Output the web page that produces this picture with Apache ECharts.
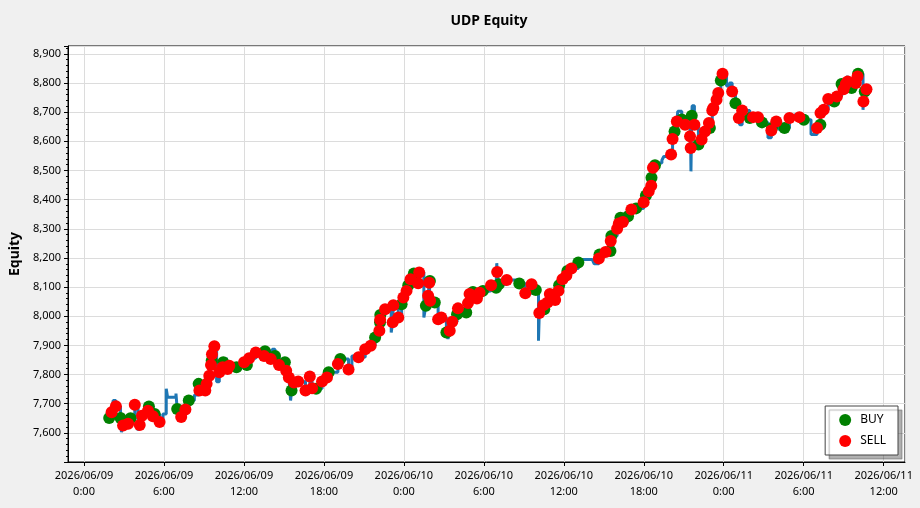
<!DOCTYPE html>
<html>
<head>
<meta charset="utf-8">
<script src="https://cdn.jsdelivr.net/npm/echarts@6/dist/echarts.min.js"></script>
<style>
html,body{margin:0;padding:0;background:#f0f0f0;}
#chart{width:920px;height:508px;}
</style>
</head>
<body>
<div id="chart"></div>
<script>
// Hours after 2026/06/09 0:00, equity value, and kind (B = BUY, S = SELL, L = equity line only)
const hours = [
1.89,2.07,2.19,2.39,2.74,2.81,2.93,3.31,3.49,3.81,4.05,4.18,4.35,4.80,4.87,5.17,5.30,5.67,5.92,6.17,
6.27,6.90,6.99,7.29,7.61,7.86,8.28,8.60,8.66,9.10,9.20,9.40,9.53,9.58,9.60,9.78,9.95,10.15,10.40,10.45,
10.67,10.77,10.90,11.44,12.01,12.22,12.39,12.89,13.51,13.58,14.01,14.13,14.33,14.63,15.07,15.17,15.37,15.50,15.57,15.75,
16.07,16.62,16.94,17.11,17.41,17.86,18.23,18.36,19.05,19.23,19.85,20.10,20.60,21.10,21.51,21.84,22.16,22.21,22.22,22.23,
22.59,23.05,23.16,23.21,23.58,23.83,23.96,24.20,24.33,24.50,24.75,25.07,25.15,25.50,25.65,25.82,25.90,25.95,25.97,26.32,
26.57,26.81,27.19,27.31,27.44,27.63,27.99,28.06,28.68,28.81,28.93,29.18,29.48,29.68,29.93,30.54,30.92,30.97,31.00,31.12,
31.72,32.66,33.11,33.58,33.90,34.10,34.16,34.46,34.53,34.78,34.95,35.35,35.60,35.65,35.90,36.19,36.27,36.57,37.09,37.40,
38.13,38.28,38.63,38.68,39.13,39.50,39.52,39.57,40.00,40.13,40.25,40.43,40.82,41.07,41.42,41.99,42.16,42.37,42.56,42.58,
42.69,42.84,42.99,43.36,43.50,43.73,43.96,44.05,44.16,44.31,44.48,44.55,44.85,45.10,45.47,45.52,45.54,45.60,45.63,45.80,
46.10,46.34,46.59,46.89,46.96,47.14,47.22,47.46,47.59,47.78,47.91,48.21,48.43,48.63,48.88,49.13,49.20,49.38,49.95,50.20,
50.57,50.87,51.32,51.57,51.62,51.94,52.16,52.56,52.93,53.28,53.68,54.01,54.55,55.00,55.25,55.26,55.50,55.84,56.29,56.49,
56.84,56.99,57.16,57.29,57.30,57.59,57.91,58.04,58.08,58.45,58.48,58.58,58.71
];
const equity = [
7651,7671,7711,7691,7651,7602,7625,7631,7650,7696,7608,7627,7659,7676,7690,7657,7665,7637,7665,7751,
7722,7735,7682,7654,7680,7711,7730,7768,7745,7745,7768,7796,7833,7847,7870,7897,7775,7808,7825,7842,
7858,7819,7830,7825,7842,7833,7856,7876,7864,7880,7853,7887,7864,7833,7842,7813,7790,7711,7745,7773,
7776,7745,7793,7753,7751,7776,7790,7808,7836,7853,7817,7864,7859,7887,7899,7927,7950,7979,7988,8004,
8024,7944,7979,8038,7996,8041,8064,8087,8106,8127,8147,8113,8150,7996,8036,8070,8115,8121,8053,8047,
7990,7996,7944,7922,7950,7981,8007,8027,8013,8045,8076,8083,8061,8081,8087,8106,8098,8182,8152,8110,
8124,8112,8079,8110,8090,7916,8011,8038,8024,8047,8076,8056,8087,8106,8127,8140,8155,8164,8184,8195,
8195,8180,8198,8212,8220,8224,8258,8275,8300,8318,8338,8323,8343,8366,8370,8391,8414,8429,8448,8475,
8509,8518,8526,8535,8548,8545,8560,8555,8608,8634,8668,8703,8675,8657,8617,8577,8497,8688,8722,8657,
8589,8606,8634,8663,8646,8706,8714,8743,8766,8809,8832,8790,8800,8771,8731,8680,8657,8706,8680,8683,
8683,8665,8612,8637,8646,8668,8640,8646,8680,8690,8683,8674,8623,8646,8657,8697,8708,8745,8737,8754,
8797,8779,8797,8825,8805,8783,8800,8822,8832,8708,8737,8771,8779
];
const kinds = [
'B','S','L','S','B','L','S','S','B','S','L','S','S','S','B','S','B','S','L','L',
'L','L','B','S','S','B','L','B','S','S','S','S','S','B','S','S','L','S','S','B',
'L','S','S','B','S','B','S','S','S','B','S','L','B','S','B','S','S','L','B','S',
'S','S','S','S','B','S','S','B','S','B','S','L','S','S','S','B','S','B','S','B',
'S','L','S','S','S','B','S','S','B','S','B','S','S','L','B','S','S','B','S','B',
'S','S','B','L','S','S','B','S','B','S','S','B','S','S','B','S','B','L','S','B',
'S','B','S','S','B','L','S','S','B','S','S','S','S','B','S','S','B','S','B','L',
'L','L','S','B','S','B','S','B','S','S','B','S','B','S','B','S','B','S','S','B',
'S','B','L','L','L','L','L','S','S','B','S','L','B','S','S','S','L','B','L','S',
'B','S','S','S','B','S','S','S','S','B','S','L','L','S','B','S','L','S','B','S',
'S','B','L','S','B','S','L','B','S','L','S','B','L','S','B','S','S','S','B','S',
'B','S','S','L','S','B','S','S','B','L','S','B','S'
];
const seriesNames = ['BUY', 'SELL'];
const yTicks = { min: 7500, max: 8927, step: 100 };
const xRangeHours = { min: -1.2, max: 61.6 };

const HOUR = 3600 * 1000;
const base = new Date(2026, 5, 9, 0, 0, 0).getTime();
const t = h => base + h * HOUR;

const linePts = hours.map((h, i) => [t(h), equity[i]]);
const buyPts = [], sellPts = [];
hours.forEach((h, i) => {
  if (kinds[i] === 'B') buyPts.push([t(h), equity[i]]);
  else if (kinds[i] === 'S') sellPts.push([t(h), equity[i]]);
});

const pad = n => (n < 10 ? '0' : '') + n;
const fmtTime = v => {
  const d = new Date(v);
  return d.getFullYear() + '/' + pad(d.getMonth() + 1) + '/' + pad(d.getDate()) + '\n' + d.getHours() + ':' + pad(d.getMinutes());
};

const font = 'Noto Sans';
const chart = echarts.init(document.getElementById('chart'));
chart.setOption({
  backgroundColor: '#f0f0f0',
  animation: false,
  title: {
    text: 'UDP Equity', left: 484, top: 9, textAlign: 'center',
    textStyle: { fontFamily: font, fontSize: 14, fontWeight: 'bold', color: '#000' }
  },
  grid: {
    left: 63, top: 46, right: 15, bottom: 46, show: true,
    backgroundColor: '#fff', borderColor: '#000', borderWidth: 1
  },
  legend: {
    data: seriesNames, orient: 'vertical', right: 22, bottom: 53,
    icon: 'circle', itemWidth: 12, itemHeight: 12, itemGap: 9,
    padding: [8, 12, 8, 14], backgroundColor: '#fff', borderColor: '#444', borderWidth: 1,
    shadowColor: 'rgba(0,0,0,0.3)', shadowBlur: 1, shadowOffsetX: 4, shadowOffsetY: 4,
    textStyle: { fontFamily: font, fontSize: 12, color: '#000', padding: [0, 0, 0, 4] }
  },
  xAxis: {
    type: 'time', min: t(xRangeHours.min), max: t(xRangeHours.max), splitNumber: 10,
    axisLine: { lineStyle: { color: '#000' } },
    axisTick: { show: true, length: 4, lineStyle: { color: '#000' } },
    axisLabel: { formatter: fmtTime, fontFamily: font, fontSize: 11, color: '#000', lineHeight: 16, margin: 6, hideOverlap: false },
    splitLine: { show: true, lineStyle: { color: '#dcdcdc' } }
  },
  yAxis: {
    type: 'value', min: yTicks.min, max: yTicks.max, interval: yTicks.step,
    name: 'Equity', nameLocation: 'middle', nameGap: 44, nameRotate: 90,
    nameTextStyle: { fontFamily: font, fontSize: 14, fontWeight: 'bold', color: '#000' },
    axisLine: { show: true, lineStyle: { color: '#000' } },
    axisTick: { show: true, length: 4, lineStyle: { color: '#000' } },
    minorTick: { show: true, splitNumber: 5, length: 2, lineStyle: { color: '#000' } },
    axisLabel: {
      fontFamily: font, fontSize: 11, color: '#000', margin: 7, showMinLabel: false, showMaxLabel: false,
      formatter: v => v.toLocaleString('en-US')
    },
    splitLine: { show: true, lineStyle: { color: '#dcdcdc' } }
  },
  series: [
    { type: 'line', name: 'Equity', data: linePts, step: 'end', showSymbol: false, symbol: 'none',
      lineStyle: { color: '#1f77b4', width: 3 }, z: 2 },
    { type: 'scatter', name: seriesNames[0], data: buyPts, symbol: 'circle', symbolSize: 12,
      itemStyle: { color: '#008000', opacity: 1 }, z: 3 },
    { type: 'scatter', name: seriesNames[1], data: sellPts, symbol: 'circle', symbolSize: 12,
      itemStyle: { color: '#ff0000', opacity: 1 }, z: 4 }
  ]
});
</script>
</body>
</html>
